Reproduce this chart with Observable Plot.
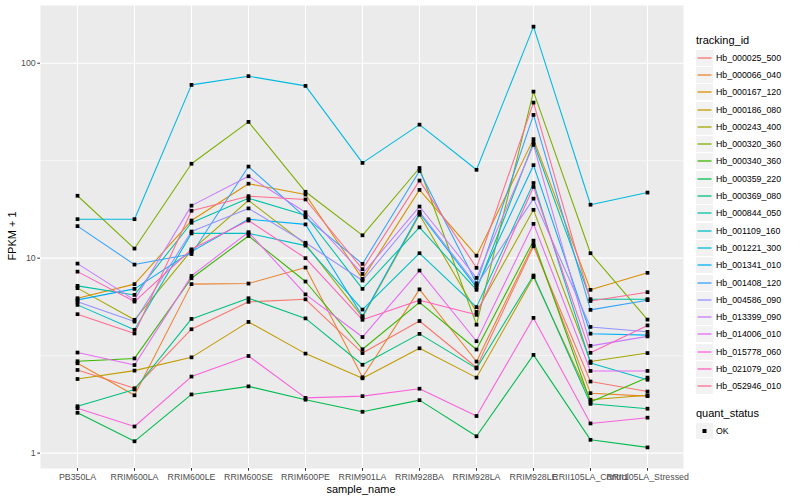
<!DOCTYPE html>
<html>
<head>
<meta charset="utf-8">
<script src="https://cdn.jsdelivr.net/npm/d3@7"></script>
<script src="https://cdn.jsdelivr.net/npm/@observablehq/plot@0.6"></script>
<style>
  body { margin: 0; background: #fff; }
  #wrap { position: relative; width: 800px; height: 500px; font-family: "Liberation Sans", Arial, sans-serif; }
  #chart { position: absolute; left: 0; top: 0; }
  .ttl { position: absolute; font-size: 11px; color: #000; white-space: nowrap; }
  #legend { position: absolute; left: 696px; top: 32px; }
  .lgtitle { font-size: 11px; color: #000; height: 17px; line-height: 17px; }
  .lgrow { display: flex; align-items: center; height: 17.3px; }
  .lgkey { width: 17px; height: 16px; background: #F2F2F2; margin-right: 3px; display: block; }
  .lgtxt { font-size: 8.8px; color: #000; }
</style>
</head>
<body>
<div id="wrap">
  <div id="chart"></div>
  <div class="ttl" id="ytitle" style="left:12px;top:236px;transform:translate(-50%,-50%) rotate(-90deg);">FPKM + 1</div>
  <div class="ttl" id="xtitle" style="left:361px;top:489px;transform:translate(-50%,-50%);">sample_name</div>
  <div id="legend"></div>
</div>
<script>
const samples = ["PB350LA","RRIM600LA","RRIM600LE","RRIM600SE","RRIM600PE","RRIM901LA","RRIM928BA","RRIM928LA","RRIM928LE","RRII105LA_Control","RRII105LA_Stressed"];

const trackingIds = ["Hb_000025_500","Hb_000066_040","Hb_000167_120","Hb_000186_080","Hb_000243_400","Hb_000320_360","Hb_000340_360","Hb_000359_220","Hb_000369_080","Hb_000844_050","Hb_001109_160","Hb_001221_300","Hb_001341_010","Hb_001408_120","Hb_004586_090","Hb_013399_090","Hb_014006_010","Hb_015778_060","Hb_021079_020","Hb_052946_010"];

const colors = ["#F8766D","#EA8331","#D89000","#C09B00","#A3A500","#7CAE00","#39B600","#00BB4E","#00BF7D","#00C1A3","#00BFC4","#00BAE0","#00B0F6","#35A2FF","#9590FF","#C77CFF","#E76BF3","#FA62DB","#FF62BC","#FF6C91"];

// FPKM + 1, one row per tracking id (same order), one value per sample
const fpkm = [
  [2.67, 2.15, 4.32, 5.97, 6.15, 3.26, 4.76, 2.75, 11.5, 2.33, 2.07],   // 000025_500
  [2.89, 1.98, 7.36, 7.41, 8.95, 2.45, 6.92, 2.95, 11.8, 2.03, 1.96],   // 000066_040
  [6.23, 7.36, 15.6, 24.1, 21.2, 7.83, 22.4, 10.3, 40.8, 6.88, 8.41],   // 000167_120
  [2.40, 2.65, 3.10, 4.71, 3.24, 2.42, 3.45, 2.44, 8.0, 1.88, 1.98],    // 000186_080
  [7.02, 4.83, 10.96, 19.8, 11.8, 4.98, 16.7, 5.30, 17.7, 2.95, 3.26],  // 000243_400
  [20.9, 11.2, 30.5, 50.0, 21.9, 13.1, 29.0, 4.56, 71.5, 10.6, 4.84],   // 000320_360
  [2.96, 3.06, 7.89, 13.0, 7.59, 3.41, 5.93, 3.40, 12.3, 1.83, 2.44],   // 000340_360
  [1.61, 1.15, 2.00, 2.20, 1.88, 1.63, 1.87, 1.22, 3.19, 1.17, 1.07],   // 000359_220
  [1.74, 2.12, 4.88, 6.23, 4.91, 2.84, 4.09, 2.72, 8.15, 1.79, 1.69],   // 000369_080
  [7.21, 6.48, 15.2, 20.3, 16.6, 6.96, 14.4, 6.88, 39.2, 6.16, 6.16],   // 000844_050
  [5.76, 4.29, 13.4, 13.4, 11.6, 5.45, 10.6, 5.61, 24.3, 2.90, 2.38],   // 001109_160
  [15.85, 15.85, 77.4, 85.8, 76.5, 30.8, 48.4, 28.4, 154, 18.8, 21.7],  // 001221_300
  [6.11, 6.96, 10.8, 15.85, 14.9, 5.04, 17.0, 7.08, 30.0, 4.10, 4.03],  // 001341_010
  [14.6, 9.27, 10.5, 29.5, 16.2, 9.35, 28.0, 7.43, 54.3, 5.43, 6.09],   // 001408_120
  [5.97, 4.73, 13.7, 18.0, 12.0, 7.68, 17.3, 7.26, 20.2, 4.44, 4.19],   // 004586_090
  [9.38, 6.11, 18.6, 26.3, 17.2, 8.30, 18.4, 7.92, 38.1, 3.55, 3.97],   // 013399_090
  [3.28, 2.83, 8.11, 13.6, 6.52, 3.94, 8.64, 3.75, 15.0, 2.64, 2.64],   // 014006_010
  [1.70, 1.37, 2.47, 3.15, 1.92, 1.96, 2.14, 1.55, 4.94, 1.42, 1.52],   // 015778_060
  [8.53, 5.99, 11.1, 15.6, 10.0, 4.83, 6.08, 5.12, 23.2, 3.27, 4.52],   // 021079_020
  [5.16, 4.11, 17.5, 20.8, 20.0, 8.78, 25.0, 8.92, 62.8, 6.03, 6.69]    // 052946_010
];

const yTicks = [1, 10, 100];
const yMinor = [Math.sqrt(10), Math.sqrt(1000)];
const yDomain = [0.834, 197.7];

const rows = [];
trackingIds.forEach((id, i) => {
  samples.forEach((s, j) => rows.push({tracking_id: id, sample_name: s, value: fpkm[i][j], quant_status: "OK"}));
});

const chart = Plot.plot({
  width: 685,
  height: 500,
  marginLeft: 40,
  marginRight: 2,
  marginTop: 5,
  marginBottom: 32,
  style: {fontFamily: "'Liberation Sans', Arial, sans-serif", fontSize: "8.8px", background: "transparent", overflow: "visible"},
  x: {type: "point", domain: samples, padding: 0.6},
  y: {type: "log", domain: yDomain},
  color: {domain: trackingIds, range: colors},
  marks: [
    Plot.frame({fill: "#EBEBEB", stroke: null}),
    Plot.ruleY(yMinor, {stroke: "#FFFFFF", strokeWidth: 0.55}),
    Plot.ruleY(yTicks, {stroke: "#FFFFFF", strokeWidth: 1.1}),
    Plot.ruleX(samples, {stroke: "#FFFFFF", strokeWidth: 1.1}),
    Plot.line(rows, {x: "sample_name", y: "value", z: "tracking_id", stroke: "tracking_id", strokeWidth: 1.07}),
    Plot.dot(rows, {x: "sample_name", y: "value", symbol: "square", r: 2.1, fill: "#000", stroke: null}),
    Plot.axisX({label: null, tickSize: 2.75, tickPadding: 2, color: "#4D4D4D", stroke: "#333333"}),
    Plot.axisY({ticks: yTicks, tickFormat: d3.format("d"), label: null, tickSize: 2.75, tickPadding: 2, color: "#4D4D4D", stroke: "#333333"})
  ]
});
document.getElementById("chart").appendChild(chart);

// legend
const lg = d3.select("#legend");
lg.append("div").attr("class", "lgtitle").text("tracking_id");
trackingIds.forEach((id, i) => {
  const r = lg.append("div").attr("class", "lgrow");
  const svg = r.append("svg").attr("class", "lgkey").attr("width", 17).attr("height", 16);
  svg.append("line").attr("x1", 1.5).attr("x2", 15.5).attr("y1", 8).attr("y2", 8)
    .attr("stroke", colors[i]).attr("stroke-width", 1.3);
  r.append("div").attr("class", "lgtxt").text(id);
});
lg.append("div").style("height", "10px");
lg.append("div").attr("class", "lgtitle").text("quant_status");
const ok = lg.append("div").attr("class", "lgrow");
const okSvg = ok.append("svg").attr("class", "lgkey").attr("width", 17).attr("height", 16);
okSvg.append("rect").attr("x", 6.5).attr("y", 6).attr("width", 4).attr("height", 4).attr("fill", "#000");
ok.append("div").attr("class", "lgtxt").text("OK");
</script>
</body>
</html>
